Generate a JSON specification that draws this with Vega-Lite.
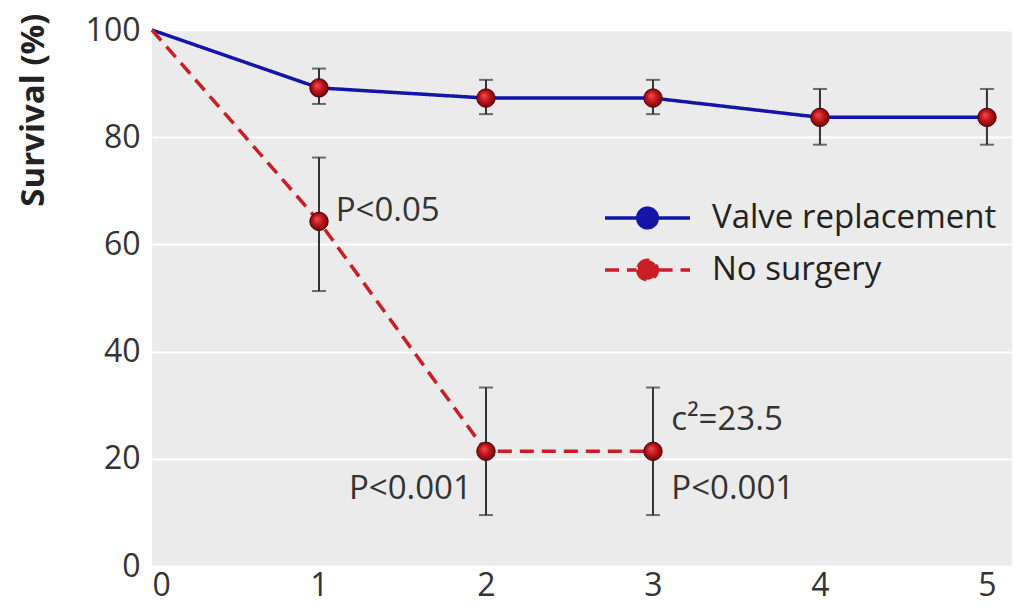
{
  "$schema": "https://vega.github.io/schema/vega-lite/v6.json",
  "autosize": "none",
  "width": 860,
  "height": 536,
  "padding": {"left": 152, "top": 30, "right": 3, "bottom": 43},
  "background": "white",
  "config": {
    "view": {"fill": "#ebebeb", "stroke": null},
    "font": "Open Sans",
    "axis": {
      "domain": false,
      "ticks": false,
      "grid": true,
      "gridColor": "white",
      "gridWidth": 2,
      "labelFont": "Open Sans",
      "labelFontSize": 32,
      "labelColor": "#333333"
    }
  },
  "datasets": {
    "surv": [
      {"series": "Valve replacement", "year": 0, "surv": 100, "lo": null, "hi": null},
      {"series": "Valve replacement", "year": 1, "surv": 89.2, "lo": 86.2, "hi": 92.8},
      {"series": "Valve replacement", "year": 2, "surv": 87.3, "lo": 84.3, "hi": 90.7},
      {"series": "Valve replacement", "year": 3, "surv": 87.3, "lo": 84.3, "hi": 90.7},
      {"series": "Valve replacement", "year": 4, "surv": 83.7, "lo": 78.6, "hi": 89.0},
      {"series": "Valve replacement", "year": 5, "surv": 83.7, "lo": 78.6, "hi": 89.0},
      {"series": "No surgery", "year": 0, "surv": 100, "lo": null, "hi": null},
      {"series": "No surgery", "year": 1, "surv": 64.3, "lo": 51.3, "hi": 76.2},
      {"series": "No surgery", "year": 2, "surv": 21.4, "lo": 9.5, "hi": 33.3},
      {"series": "No surgery", "year": 3, "surv": 21.4, "lo": 9.5, "hi": 33.3}
    ],
    "notes": [
      {"x": 1.1, "y": 66.3, "label": "P<0.05", "side": "left"},
      {"x": 1.915, "y": 14.3, "label": "P<0.001", "side": "right"},
      {"x": 3.11, "y": 27.3, "label": "c²=23.5", "side": "left"},
      {"x": 3.11, "y": 14.3, "label": "P<0.001", "side": "left"}
    ]
  },
  "layer": [
    {
      "data": {"name": "surv"},
      "mark": {"type": "line", "strokeWidth": 3.5},
      "encoding": {
        "x": {
          "field": "year", "type": "quantitative",
          "scale": {"domain": [0, 5.15], "nice": false, "zero": false},
          "axis": {"values": [0, 1, 2, 3, 4, 5], "title": null, "labelPadding": 4, "grid": false, "format": "d"}
        },
        "y": {
          "field": "surv", "type": "quantitative",
          "scale": {"domain": [0, 100], "nice": false},
          "axis": {
            "values": [0, 20, 40, 60, 80, 100],
            "title": "Survival (%)",
            "titleFont": "Open Sans",
            "titleFontSize": 33,
            "titleFontWeight": "bold",
            "titleColor": "#222222",
            "titleAlign": "right",
            "titleBaseline": "middle",
            "titleX": -119,
            "titleY": -17,
            "labelPadding": 12
          }
        },
        "color": {
          "field": "series", "type": "nominal",
          "scale": {"domain": ["Valve replacement", "No surgery"], "range": ["#1414a8", "#c81e24"]},
          "legend": {
            "title": null,
            "orient": "none",
            "legendX": 451,
            "legendY": 163,
            "symbolType": "M-1,0L-0.26,0M0.26,0L1,0M-0.23,0A0.23,0.23,0,1,0,0.23,0A0.23,0.23,0,1,0,-0.23,0Z",
            "symbolSize": 7225,
            "symbolStrokeWidth": 3.5,
            "labelFont": "Open Sans",
            "labelFontSize": 33,
            "labelColor": "#222222",
            "labelOffset": 20,
            "labelLimit": 500,
            "clipHeight": 50,
            "rowPadding": 2,
            "encode": {
              "symbols": {"update": {"fill": {"scale": "color", "field": "value"}, "fillOpacity": {"value": 1}}}
            }
          }
        },
        "strokeDash": {
          "field": "series", "type": "nominal",
          "scale": {"domain": ["Valve replacement", "No surgery"], "range": [[1, 0], [14, 8]]},
          "legend": null
        }
      }
    },
    {
      "data": {"name": "surv"},
      "transform": [{"filter": "datum.year > 0"}],
      "mark": {"type": "rule", "color": "#333333", "strokeWidth": 2},
      "encoding": {
        "x": {"field": "year", "type": "quantitative"},
        "y": {"field": "lo", "type": "quantitative"},
        "y2": {"field": "hi"}
      }
    },
    {
      "data": {"name": "surv"},
      "transform": [{"filter": "datum.year > 0"}, {"fold": ["lo", "hi"], "as": ["k", "v"]}],
      "mark": {"type": "tick", "orient": "horizontal", "color": "#333333", "thickness": 2, "size": 14},
      "encoding": {
        "x": {"field": "year", "type": "quantitative"},
        "y": {"field": "v", "type": "quantitative"}
      }
    },
    {
      "data": {"name": "surv"},
      "transform": [{"filter": "datum.year > 0"}],
      "mark": {
        "type": "point", "filled": true,
        "fill": {"gradient": "radial", "x1": 0.38, "y1": 0.35, "r1": 0, "x2": 0.5, "y2": 0.5, "r2": 0.55,
                 "stops": [{"offset": 0, "color": "#f05050"}, {"offset": 0.5, "color": "#c0161c"}, {"offset": 1, "color": "#6a0404"}]},
        "stroke": "#4a0404", "strokeWidth": 1, "size": 340, "opacity": 1
      },
      "encoding": {
        "x": {"field": "year", "type": "quantitative"},
        "y": {"field": "surv", "type": "quantitative"}
      }
    },
    {
      "data": {"name": "notes"},
      "transform": [{"filter": "datum.side === 'left'"}],
      "mark": {"type": "text", "align": "left", "baseline": "middle", "font": "Open Sans", "fontSize": 33, "color": "#333333"},
      "encoding": {
        "x": {"field": "x", "type": "quantitative"},
        "y": {"field": "y", "type": "quantitative"},
        "text": {"field": "label"}
      }
    },
    {
      "data": {"name": "notes"},
      "transform": [{"filter": "datum.side === 'right'"}],
      "mark": {"type": "text", "align": "right", "baseline": "middle", "font": "Open Sans", "fontSize": 33, "color": "#333333"},
      "encoding": {
        "x": {"field": "x", "type": "quantitative"},
        "y": {"field": "y", "type": "quantitative"},
        "text": {"field": "label"}
      }
    }
  ]
}
